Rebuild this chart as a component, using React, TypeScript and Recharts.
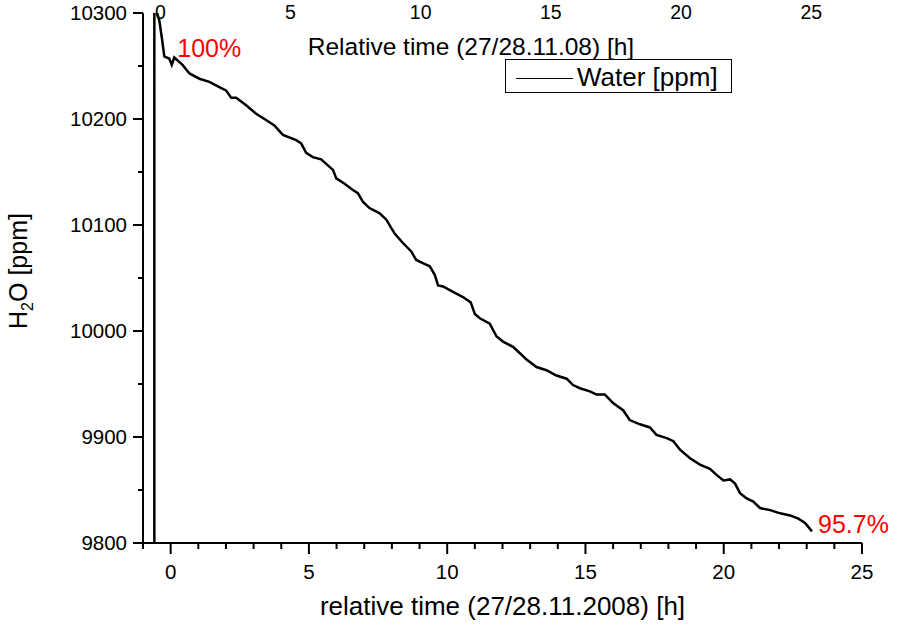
import React from "react";
import {
  LineChart,
  Line,
  XAxis,
  YAxis,
  Legend,
  ReferenceDot,
  Label,
} from "recharts";

// relative time [h] and water content [ppm]
const timeH = [
  -0.59, -0.59, -0.55, -0.41, -0.31, -0.23, -0.05, 0.04, 0.13, 0.43, 0.68,
  1.04, 1.4, 1.76, 2.0, 2.19, 2.37, 2.73, 3.09, 3.45, 3.75, 4.06, 4.54, 4.72,
  4.9, 5.14, 5.44, 5.87, 5.99, 6.29, 6.59, 6.77, 6.95, 7.19, 7.56, 7.8, 7.98,
  8.1, 8.4, 8.7, 8.88, 9.12, 9.37, 9.55, 9.67, 9.85, 10.21, 10.57, 10.85, 11.0,
  11.18, 11.54, 11.78, 12.02, 12.38, 12.63, 12.87, 13.23, 13.59, 13.95, 14.32,
  14.55, 14.8, 15.16, 15.4, 15.7, 16.0, 16.37, 16.6, 16.97, 17.33, 17.57,
  17.94, 18.18, 18.42, 18.78, 19.14, 19.5, 19.75, 19.99, 20.23, 20.41, 20.59,
  20.83, 21.07, 21.31, 21.68, 22.04, 22.4, 22.7, 22.94, 23.19,
];
const waterPpm = [
  9790, 10320, 10305, 10293, 10275, 10259, 10257, 10251, 10258, 10251, 10243,
  10238, 10235, 10230, 10227, 10220, 10220, 10213, 10205, 10199, 10194, 10185,
  10180, 10177, 10168, 10164, 10162, 10152, 10144, 10139, 10133, 10130, 10122,
  10116, 10111, 10105, 10097, 10092, 10083, 10075, 10067, 10064, 10061, 10053,
  10043, 10042, 10037, 10032, 10027, 10016, 10012, 10007, 9995, 9990, 9985,
  9979, 9973, 9966, 9963, 9958, 9955, 9949, 9946, 9943, 9940, 9940, 9932, 9925,
  9916, 9912, 9909, 9902, 9899, 9896, 9888, 9880, 9874, 9870, 9864, 9859, 9860,
  9856, 9847, 9842, 9839, 9833, 9831, 9828, 9826, 9823, 9819, 9811,
];

const bottomTicks = [
  -1, 0, 1, 2, 3, 4, 5, 6, 7, 8, 9, 10, 11, 12, 13, 14, 15, 16, 17, 18, 19,
  20, 21, 22, 23, 24, 25,
];
const topTicks = [0, 5, 10, 15, 20, 25];
const yTicks = [
  9800, 9850, 9900, 9950, 10000, 10050, 10100, 10150, 10200, 10250, 10300,
];

const data = timeH.map((t, i) => ({ t, water: waterPpm[i] }));

const FONT = "'Liberation Sans', Arial, sans-serif";
const TICK_FS = 20.5;

const BottomTick = ({ x, y, payload }: any) => {
  const v = payload.value;
  const major = v % 5 === 0;
  return (
    <g>
      <line x1={x} x2={x} y1={y} y2={y + (major ? 11 : 6)} stroke="#000" strokeWidth={2} />
      {major && (
        <text x={x} y={y + 36} textAnchor="middle" fontSize={TICK_FS} fontFamily={FONT} fill="#000">
          {v}
        </text>
      )}
    </g>
  );
};

// top labels sit right at the picture's top edge
const TopTick = ({ x, y, payload }: any) => (
  <text x={x} y={y + 5.5} textAnchor="middle" fontSize={19.5} fontFamily={FONT} fill="#000">
    {payload.value}
  </text>
);

const LeftTick = ({ x, y, payload }: any) => {
  const v = payload.value;
  const major = v % 100 === 0;
  return (
    <g>
      <line x1={x} x2={x - (major ? 10 : 5)} y1={y} y2={y} stroke="#000" strokeWidth={2} />
      {major && (
        <text
          x={x - 16}
          y={y}
          dy="0.35em"
          textAnchor="end"
          fontSize={TICK_FS}
          fontFamily={FONT}
          fill="#000"
        >
          {v}
        </text>
      )}
    </g>
  );
};

const BottomTitle = ({ viewBox }: any) => (
  <text
    x={viewBox.x + viewBox.width / 2}
    y={viewBox.y + 72}
    textAnchor="middle"
    fontSize={26}
    fontFamily={FONT}
    fill="#000"
  >
    relative time (27/28.11.2008) [h]
  </text>
);

const TopTitle = ({ viewBox }: any) => (
  <text
    x={viewBox.x + 328}
    y={55}
    textAnchor="middle"
    fontSize={24.5}
    fontFamily={FONT}
    fill="#000"
  >
    Relative time (27/28.11.08) [h]
  </text>
);

const YTitle = ({ viewBox }: any) => {
  const cx = 27;
  const cy = viewBox.y + viewBox.height / 2 - 7;
  return (
    <text
      x={cx}
      y={cy}
      transform={`rotate(-90, ${cx}, ${cy})`}
      textAnchor="middle"
      fontSize={25}
      fontFamily={FONT}
      fill="#000"
    >
      H
      <tspan dy={6} fontSize={16}>
        2
      </tspan>
      <tspan dy={-6}>O [ppm]</tspan>
    </text>
  );
};

const note = (txt: string) => ({ viewBox }: any) => (
  <text x={viewBox.x} y={viewBox.y} fontSize={25} fontFamily={FONT} fill="#ff0000">
    {txt}
  </text>
);

const LegendBox = ({ payload }: any) => (
  <svg width={227} height={34} style={{ display: "block" }}>
    <rect x={0.5} y={0.5} width={226} height={33} fill="#fff" stroke="#000" strokeWidth={1} />
    <line x1={11} x2={68} y1={19.5} y2={19.5} stroke="#000" strokeWidth={1} />
    <text x={72} y={27} fontSize={26} fontFamily={FONT} fill="#000">
      {payload && payload[0] ? payload[0].value : "Water [ppm]"}
    </text>
  </svg>
);

export default function App() {
  return (
    <div style={{ position: "absolute", left: 0, top: 0, background: "#fff" }}>
      <LineChart
        width={923}
        height={634}
        data={data}
        margin={{ top: 0, right: 61, bottom: 0, left: 0 }}
      >
        <XAxis
          xAxisId="bottom"
          dataKey="t"
          type="number"
          domain={[-1, 25]}
          ticks={bottomTicks}
          interval={0}
          allowDataOverflow
          height={91}
          tickSize={0}
          tickMargin={0}
          tickLine={false}
          axisLine={{ stroke: "#000", strokeWidth: 2 }}
          tick={BottomTick}
        >
          <Label content={BottomTitle} />
        </XAxis>
        <XAxis
          xAxisId="top"
          orientation="top"
          dataKey="t"
          type="number"
          domain={[-0.665, 26.95]}
          ticks={topTicks}
          interval={0}
          allowDataOverflow
          height={13}
          tickSize={0}
          tickMargin={0}
          tickLine={false}
          axisLine={false}
          tick={TopTick}
        >
          <Label content={TopTitle} />
        </XAxis>
        <YAxis
          yAxisId="left"
          type="number"
          domain={[9800, 10300]}
          ticks={yTicks}
          interval={0}
          allowDataOverflow
          width={143}
          tickSize={0}
          tickMargin={0}
          tickLine={false}
          axisLine={{ stroke: "#000", strokeWidth: 2 }}
          tick={LeftTick}
        >
          <Label content={YTitle} />
        </YAxis>
        <Legend
          layout="horizontal"
          verticalAlign="middle"
          align="center"
          content={LegendBox}
          wrapperStyle={{ left: 505, top: 59, width: 227, height: 34 }}
        />
        <Line
          xAxisId="bottom"
          yAxisId="left"
          type="linear"
          dataKey="water"
          name="Water [ppm]"
          stroke="#000"
          strokeWidth={2.5}
          dot={false}
          isAnimationActive={false}
        />
        <ReferenceDot
          xAxisId="bottom"
          yAxisId="left"
          x={0.24}
          y={10258.5}
          r={0}
          fill="none"
          stroke="none"
          label={{ content: note("100%") }}
        />
        <ReferenceDot
          xAxisId="bottom"
          yAxisId="left"
          x={23.41}
          y={9809.4}
          r={0}
          fill="none"
          stroke="none"
          label={{ content: note("95.7%") }}
        />
      </LineChart>
    </div>
  );
}
